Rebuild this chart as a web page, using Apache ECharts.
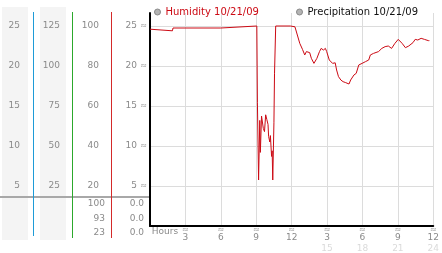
<!DOCTYPE html>
<html>
<head>
<meta charset="utf-8">
<script src="https://cdn.jsdelivr.net/npm/echarts@6/dist/echarts.min.js"></script>
<style>
html,body{margin:0;padding:0;background:#fff;}
#c{width:442px;height:253px;}
</style>
</head>
<body>
<div id="c"></div>
<script>
// ---- data ----
const humidityHours = [0.0,0.1,1.9,1.95,6.0,6.05,9.05,9.1,9.2,9.3,9.35,9.45,9.6,9.7,9.8,9.9,10.0,10.05,10.15,10.2,10.3,10.35,10.4,10.5,10.55,10.65,11.9,12.0,12.28,12.69,12.92,13.11,13.25,13.39,13.53,13.67,13.89,14.14,14.36,14.5,14.69,14.86,14.97,15.19,15.47,15.69,15.81,15.97,16.17,16.36,16.58,16.86,17.0,17.28,17.47,17.69,17.97,18.25,18.53,18.67,18.94,19.36,19.64,19.92,20.19,20.47,20.75,21.03,21.17,21.36,21.64,21.92,22.28,22.47,22.69,22.97,23.25,23.58,23.67];
const humidityValues = [24.6,24.4,24.4,24.75,24.75,25.0,25.0,15.4,5.75,13.2,9.2,13.75,12.2,11.8,13.9,13.3,12.7,11.2,10.5,11.3,8.7,9.4,5.75,12.9,19.1,25.0,25.0,24.75,24.9,22.83,22.08,21.38,21.8,21.58,21.67,20.96,20.33,20.96,21.8,22.2,22.0,22.2,21.8,20.75,20.33,20.4,19.5,18.67,18.25,18.04,17.92,17.75,18.25,18.88,19.08,20.13,20.33,20.54,20.75,21.38,21.58,21.8,22.2,22.42,22.5,22.2,22.83,23.33,23.46,22.83,22.29,22.5,22.92,23.33,23.25,23.46,23.33,23.17,23.17];
const precipitationValues = [];

const seriesNames = ['Humidity 10/21/09', 'Precipitation 10/21/09'];

const xTickValues = [0,3,6,9,12,15,18,21,24];
const xTickTop    = ['Hours','3','6','9','12','3','6','9','12'];
const xTickBottom = ['','','','','','15','18','21','24'];

const yCol1Labels = [5,10,15,20,25];
const yCol2Labels = [25,50,75,100,125];
const yCol3Labels = [20,40,60,80,100];
const yCol4Labels = [5,10,15,20,25];

const lowerCol3 = ['100','93','23'];
const lowerCol4 = ['0.0','0.0','0.0'];

// ---- chart ----
const FONT = 'DejaVu Sans';
const GREY = '#8a8a8a';
const RED = '#cc0a14';

const chart = echarts.init(document.getElementById('c'), null, {renderer:'canvas'});

function colAxis(max, interval, labels, margin) {
  return {
    type:'value', position:'left', min:0, max:max, interval:interval,
    axisLine:{show:false}, axisTick:{show:false}, splitLine:{show:false},
    axisLabel:{
      margin:margin, color:GREY, fontFamily:FONT, fontSize:9,
      showMaxLabel:false,
      formatter:function(v){ return labels.indexOf(Math.round(v*1000)/1000) >= 0 ? String(v) : ''; }
    }
  };
}

const humidityData = humidityHours.map((h,i)=>[h, humidityValues[i]]);

const lowerTexts = [];
lowerCol3.forEach((t,i)=>lowerTexts.push({type:'text', x:105, y:204+i*14.3, style:{text:t, fill:GREY, font:'9px "'+FONT+'"', textAlign:'right', textVerticalAlign:'middle'}}));
lowerCol4.forEach((t,i)=>lowerTexts.push({type:'text', x:144, y:204+i*14.3, style:{text:t, fill:GREY, font:'9px "'+FONT+'"', textAlign:'right', textVerticalAlign:'middle'}}));

chart.setOption({
  animation:false,
  backgroundColor:'#fff',
  legend:[
    {left:149, top:0, itemWidth:6, itemHeight:6, icon:'circle',
     itemStyle:{color:'#b4b4b4', borderColor:'#8a8a8a', borderWidth:1},
     textStyle:{fontFamily:FONT, fontSize:10, color:RED, lineHeight:14},
     data:[seriesNames[0]]},
    {left:291, top:0, itemWidth:6, itemHeight:6, icon:'circle',
     itemStyle:{color:'#b4b4b4', borderColor:'#8a8a8a', borderWidth:1},
     textStyle:{fontFamily:FONT, fontSize:10, color:'#111', lineHeight:14},
     data:[seriesNames[1]]}
  ],
  grid:{left:150, right:3, top:13, bottom:27, containLabel:false},
  xAxis:{
    type:'value', min:0, max:24, interval:3,
    axisLine:{show:true, onZero:false, lineStyle:{color:'#000', width:2}},
    axisTick:{show:false},
    splitLine:{show:true, lineStyle:{color:'#dcdcdc', width:1}},
    axisLabel:{
      margin:1, showMinLabel:true, showMaxLabel:true,
      formatter:function(v){
        const i = xTickValues.indexOf(v);
        if (i < 0) return '';
        if (i === 0) return '{h|'+xTickTop[0]+'}';
        let s = '{m|≈}\n{d|'+xTickTop[i]+'}';
        if (xTickBottom[i]) s += '\n{s|'+xTickBottom[i]+'}';
        return s;
      },
      rich:{
        h:{fontFamily:FONT, fontSize:9, color:GREY, lineHeight:10, padding:[0,0,0,30]},
        m:{fontFamily:FONT, fontSize:8, color:'#999', lineHeight:6},
        d:{fontFamily:FONT, fontSize:9, color:GREY, lineHeight:10},
        s:{fontFamily:FONT, fontSize:9, color:'#dadada', lineHeight:11}
      }
    }
  },
  yAxis:[
    {type:'value', position:'left', min:0, max:26.625, interval:5,
     axisLine:{show:true, onZero:false, lineStyle:{color:'#000', width:2}},
     axisTick:{show:false},
     splitLine:{show:true, showMaxLine:false, showMinLine:false, lineStyle:{color:'#dcdcdc', width:1}},
     axisLabel:{margin:3, color:'#999', fontFamily:FONT, fontSize:8, showMaxLabel:false,
       formatter:function(v){ return (v>0 && v<=25) ? '≈' : ''; }}},
    colAxis(26.625, 5, yCol4Labels, 13),
    colAxis(106.5, 20, yCol3Labels, 51),
    colAxis(133.125, 25, yCol2Labels, 90),
    colAxis(26.625, 5, yCol1Labels, 130)
  ],
  graphic:[
    {type:'rect', z:-10, shape:{x:2, y:7, width:26, height:233}, style:{fill:'#f4f4f4'}},
    {type:'rect', z:-10, shape:{x:40, y:7, width:26, height:233}, style:{fill:'#f4f4f4'}},
    {type:'line', z:-5, shape:{x1:0, y1:197, x2:149, y2:197}, style:{stroke:'#a8a8a8', lineWidth:2}},
    {type:'line', z:-4, shape:{x1:33.5, y1:12, x2:33.5, y2:236}, style:{stroke:'#1e9bd7', lineWidth:1}},
    {type:'line', z:-4, shape:{x1:72.5, y1:12, x2:72.5, y2:238}, style:{stroke:'#2ca82c', lineWidth:1}},
    {type:'line', z:-4, shape:{x1:111.5, y1:12, x2:111.5, y2:238}, style:{stroke:'#d42a2a', lineWidth:1}}
  ].concat(lowerTexts),
  series:[
    {name:seriesNames[0], type:'line', xAxisIndex:0, yAxisIndex:0, data:humidityData,
     showSymbol:false, symbol:'none', lineStyle:{color:RED, width:1}, itemStyle:{color:RED}},
    {name:seriesNames[1], type:'line', xAxisIndex:0, yAxisIndex:0, data:precipitationValues,
     showSymbol:false, symbol:'none', lineStyle:{color:'#888', width:1}, itemStyle:{color:'#888'}}
  ]
});
</script>
</body>
</html>
